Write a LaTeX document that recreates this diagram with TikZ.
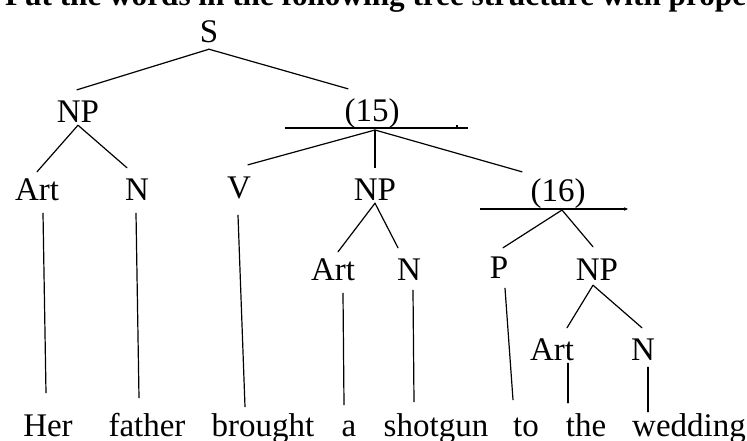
\documentclass[tikz,border=0pt]{standalone}
\usepackage{fontspec}
\setmainfont{Liberation Serif}
\usetikzlibrary{arrows.meta}
\tikzset{
  lab/.style={inner sep=0pt, text height=22pt, text depth=0pt, anchor=base, font=\fontsize{33}{36}\selectfont},
  word/.style={inner sep=0pt, text height=22pt, text depth=0pt, anchor=base, font=\fontsize{33}{36}\selectfont},
  hdr/.style={inner sep=0pt, anchor=base west, font=\bfseries\fontsize{31.2}{36}\selectfont},
  br/.style={line width=1.2pt, line cap=round},
  stem/.style={line width=2.2pt},
  bar/.style={line width=1.1pt}
}
\begin{document}
\begin{tikzpicture}[x=1pt,y=-1pt]
\useasboundingbox (0,0) rectangle (747,440);
\begin{scope}
\clip (0,0) rectangle (747,440);
\node[hdr] (head) at (5,5.5) {Put the words in the following tree structure with prope};
\end{scope}
% labels
\node[lab] (S) at (209,42) {S};
\node[lab] (NP1) at (78,122) {NP};
\node[lab] (Art1) at (37,200) {Art};
\node[lab] (N1) at (137,200) {N};
\node[lab] (V) at (239,198) {V};
\node[lab] (P15) at (372,121) {(15)};
\node[lab] (NP2) at (375,200) {NP};
\node[lab] (P16) at (558,201) {(16)};
\node[lab] (Art2) at (333,280) {Art};
\node[lab] (N2) at (409,280) {N};
\node[lab] (P) at (499,278) {P};
\node[lab] (NP3) at (597,280) {NP};
\node[lab] (Art3) at (552,360) {Art};
\node[lab] (N3) at (643,360) {N};
% words
\node[word] (Her) at (48,436) {Her};
\node[word] (father) at (147,436) {father};
\node[word] (brought) at (263,436) {brought};
\node[word] (a) at (349,436) {a};
\node[word] (shotgun) at (436,436) {shotgun};
\node[word] (to) at (526,436) {to};
\node[word] (the) at (586,436) {the};
\node[word] (wedding) at (689,436) {wedding};
% bars
\coordinate (b15l) at (285,128);
\coordinate (b15r) at (468,128);
\coordinate (b15) at (375,130);
\coordinate (b16l) at (480,209);
\coordinate (b16r) at (628,209);
\coordinate (b16) at (562,210);
\coordinate (t15) at (457,125);
\draw[bar] (b15l) -- (b15r);
\draw[bar] (t15) -- (457,128);
\draw[bar,-{Stealth[length=4pt,width=3.5pt]}] (b16l) -- (b16r);
% branches
\draw[br] ([yshift=-7pt]S.south) -- ([xshift=-1pt,yshift=10pt]NP1.north);
\draw[br] ([yshift=-7pt]S.south) -- ([xshift=-24pt,yshift=10pt]P15.north);
\draw[br] ([yshift=-3pt]NP1.south) -- ([yshift=6pt]Art1.north);
\draw[br] ([yshift=-3pt]NP1.south) -- ([xshift=-10pt,yshift=10pt]N1.north);
\draw[br] ([xshift=6pt,yshift=-13pt]Art1.south) -- ([xshift=-2pt,yshift=21pt]Her.north);
\draw[br] ([xshift=-1pt,yshift=-13pt]N1.south) -- ([xshift=-8pt,yshift=16pt]father.north);
\draw[br] ([xshift=-1pt,yshift=-17pt]V.south) -- ([xshift=-18pt,yshift=7pt]brought.north);
\draw[br] (b15) -- ([xshift=9pt,yshift=11pt]V.north);
\draw[stem] (b15) -- ([yshift=10pt]NP2.north);
\draw[br] (b15) -- ([xshift=-36pt,yshift=7pt]P16.north);
\draw[br] ([yshift=-3pt]NP2.south) -- ([xshift=5pt,yshift=6pt]Art2.north);
\draw[br] ([yshift=-3pt]NP2.south) -- ([xshift=-11pt,yshift=10pt]N2.north);
\draw[br] ([xshift=10pt,yshift=-13pt]Art2.south) -- ([xshift=-5pt,yshift=9pt]a.north);
\draw[br] ([xshift=4pt,yshift=-10pt]N2.south) -- ([xshift=-22pt,yshift=12pt]shotgun.north);
\draw[br] (b16) -- ([xshift=4pt,yshift=8pt]P.north);
\draw[br] (b16) -- ([xshift=-4pt,yshift=11pt]NP3.north);
\draw[br] ([xshift=6pt,yshift=-10pt]P.south) -- ([xshift=-13pt,yshift=14pt]to.north);
\draw[br] ([xshift=-4pt,yshift=-5pt]NP3.south) -- ([xshift=15pt,yshift=10pt]Art3.north);
\draw[br] ([xshift=-4pt,yshift=-5pt]NP3.south) -- ([xshift=-1pt,yshift=10pt]N3.north);
\draw[br] ([xshift=16pt,yshift=-3pt]Art3.south) -- ([xshift=-18pt,yshift=11pt]the.north);
\draw[br] ([xshift=5pt,yshift=-7pt]N3.south) -- ([xshift=-41pt,yshift=2pt]wedding.north);
\end{tikzpicture}
\end{document}
